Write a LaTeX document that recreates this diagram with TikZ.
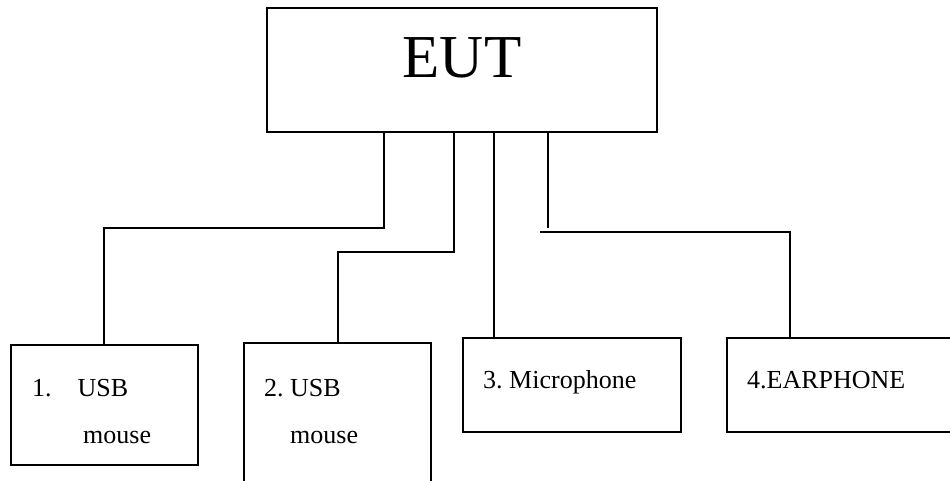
\documentclass[tikz,border=0pt]{standalone}
\usepackage{fontspec}
\setmainfont{Liberation Serif}
\frenchspacing
\begin{document}
\begin{tikzpicture}[x=1pt,y=-1pt,
  box/.style={draw,line width=1.5pt,rectangle,inner sep=0pt},
  wire/.style={line width=1.5pt},
  lbl/.style={inner sep=0pt,anchor=base west,font=\fontsize{26}{30}\selectfont}]
\useasboundingbox (0,0) rectangle (950,480);
\clip (0,0) rectangle (950,480);
% equipment under test
\node[box,minimum width=390pt,minimum height=124pt] (eut) at (462,70) {};
\node[inner sep=0pt,anchor=base,font=\fontsize{61}{70}\selectfont] (euttxt) at (462,77) {EUT};
% peripherals
\node[box,minimum width=187pt,minimum height=120pt] (b1) at (104.5,405) {};
\node[box,minimum width=187pt,minimum height=160pt] (b2) at (337.5,423) {};
\node[box,minimum width=218pt,minimum height=94pt] (b3) at (572,385) {};
\node[box,minimum width=233pt,minimum height=94pt] (b4) at (843.5,385) {};
\node[lbl] (t1a) at (32,396) {1.\hskip 26pt USB};
\node[lbl] (t1b) at (83,443) {mouse};
\node[lbl] (t2a) at (264,396) {2. USB};
\node[lbl] (t2b) at (290,443) {mouse};
\node[lbl] (t3) at (483,388) {3. Microphone};
\node[lbl] (t4) at (747,388) {4.EARPHONE};
% cables
\draw[wire] (eut.south -| 384,0) |- (104,228) -- (b1.north -| 104,0);
\draw[wire] (eut.south -| 454,0) |- (338,252) -- (b2.north -| 338,0);
\draw[wire] (eut.south -| 494,0) -- (b3.north -| 494,0);
\coordinate (d1) at (548,228);
\coordinate (d2) at (540,232);
\draw[wire] (eut.south -| 548,0) -- (d1);
\draw[wire] (d2) -| (b4.north -| 790,0);
\end{tikzpicture}
\end{document}
